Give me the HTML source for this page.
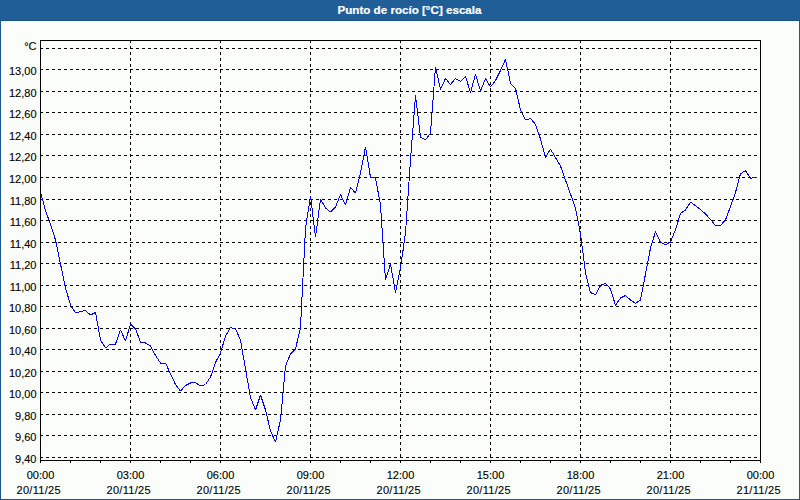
<!DOCTYPE html>
<html><head><meta charset="utf-8"><style>
html,body{margin:0;padding:0;}
body{width:800px;height:500px;overflow:hidden;background:#FBFDFA;position:relative;}
svg{position:absolute;left:0;top:0;}
text{font-family:"Liberation Sans",sans-serif;font-size:11px;fill:#000;stroke:#000;stroke-width:0.12px;}
.t{font-weight:bold;fill:#fff;stroke:#fff;stroke-width:0.2px;font-size:11px;}
</style></head><body>
<svg width="800" height="500" viewBox="0 0 800 500">
<rect x="0" y="0" width="800" height="500" fill="#FBFDFA"/>
<rect x="0" y="0" width="800" height="21" fill="#1F5E96"/>
<rect x="0" y="20" width="800" height="1" fill="#135089"/>
<rect x="1" y="21" width="798" height="1" fill="#ffffff"/>
<rect x="1" y="21" width="1" height="478" fill="#ffffff"/>
<rect x="0" y="20" width="1" height="480" fill="#1A5990"/>
<rect x="799" y="20" width="1" height="480" fill="#1A5990"/>
<rect x="0" y="499" width="800" height="1" fill="#1A5990"/>
<text class="t" x="337.5" y="14" textLength="144" lengthAdjust="spacingAndGlyphs">Punto de rocío [°C] escala</text>
<g stroke="#000" stroke-width="1" fill="none" shape-rendering="crispEdges">
<path d="M40 48.5H760 M40 69.5H760 M40 91.5H760 M40 112.5H760 M40 134.5H760 M40 155.5H760 M40 177.5H760 M40 199.5H760 M40 220.5H760 M40 242.5H760 M40 263.5H760 M40 285.5H760 M40 306.5H760 M40 328.5H760 M40 349.5H760 M40 371.5H760 M40 392.5H760 M40 414.5H760 M40 435.5H760 M40 457.5H760 M130.5 40V460 M220.5 40V460 M310.5 40V460 M400.5 40V460 M490.5 40V460 M580.5 40V460 M670.5 40V460" stroke-dasharray="3 3"/>
<path d="M40.5 460V463 M70.5 460V463 M100.5 460V463 M130.5 460V463 M160.5 460V463 M190.5 460V463 M220.5 460V463 M250.5 460V463 M280.5 460V463 M310.5 460V463 M340.5 460V463 M370.5 460V463 M400.5 460V463 M430.5 460V463 M460.5 460V463 M490.5 460V463 M520.5 460V463 M550.5 460V463 M580.5 460V463 M610.5 460V463 M640.5 460V463 M670.5 460V463 M700.5 460V463 M730.5 460V463 M760.5 460V463"/>
</g>
<polyline points="40.5,192.0 45.5,210.5 50.5,224.5 55.5,240.0 60.5,264.0 65.5,288.0 70.5,305.0 75.5,313.0 80.5,311.5 85.5,310.5 90.5,315.0 95.5,312.5 100.5,340.0 105.5,348.0 110.5,344.0 115.5,344.0 120.5,330.0 125.5,341.0 130.5,324.0 135.5,329.0 140.5,342.0 145.5,343.0 150.5,346.0 155.5,355.5 160.5,363.0 165.5,363.0 170.5,374.0 175.5,384.5 180.5,391.0 185.5,385.5 190.5,383.0 195.5,382.5 200.5,386.0 205.5,384.5 210.5,377.0 215.5,362.5 220.5,353.0 225.5,336.0 230.5,327.5 235.5,329.0 240.5,340.0 245.5,369.0 250.5,397.5 255.5,410.0 260.5,395.0 265.5,410.0 270.5,431.0 275.5,442.0 280.5,420.0 285.5,366.0 290.5,354.0 295.5,349.0 300.5,327.5 305.5,228.0 310.5,196.0 315.5,237.0 320.5,199.0 325.5,208.0 330.5,212.0 335.5,207.0 340.5,194.5 345.5,205.0 350.5,187.5 355.5,193.0 360.5,173.0 365.5,147.0 370.5,177.5 375.5,178.0 380.5,205.0 385.5,280.0 390.5,264.0 395.5,292.5 400.5,268.0 405.5,233.0 410.5,160.0 415.5,95.5 420.5,137.0 425.5,140.0 430.5,133.0 435.5,67.0 440.5,89.5 445.5,78.5 450.5,84.5 455.5,78.5 460.5,81.5 465.5,76.3 470.5,92.6 475.5,74.4 480.5,91.0 485.5,78.5 490.5,87.0 495.5,80.5 500.5,70.5 505.5,59.4 510.5,83.3 515.5,88.2 520.5,110.0 525.5,120.0 530.5,118.5 535.5,124.4 540.5,139.0 545.5,157.7 550.5,149.0 555.5,157.7 560.5,166.0 565.5,180.0 570.5,194.0 575.5,208.0 580.5,234.0 585.5,272.5 590.5,292.6 595.5,294.7 600.5,285.5 605.5,283.3 610.5,289.0 615.5,305.3 620.5,298.0 625.5,295.5 630.5,300.0 635.5,303.3 640.5,300.0 645.5,274.0 650.5,248.0 655.5,231.6 660.5,242.5 665.5,244.6 670.5,242.0 675.5,229.5 680.5,213.5 685.5,210.0 690.5,202.0 695.5,205.6 700.5,209.5 705.5,214.0 710.5,219.5 715.5,225.5 720.5,225.5 725.5,219.8 730.5,206.5 735.5,192.5 740.5,173.75 745.5,170.6 750.5,178.5 755.5,177.0 756.5,177.0" fill="none" stroke="#0000FF" stroke-width="1" stroke-linejoin="bevel" shape-rendering="crispEdges"/>
<rect x="40.5" y="40.5" width="720" height="420" stroke="#000" fill="none" shape-rendering="crispEdges"/>
<text x="36.5" y="50" text-anchor="end">°C</text><text x="36.5" y="75" text-anchor="end">13,00</text><text x="36.5" y="97" text-anchor="end">12,80</text><text x="36.5" y="118" text-anchor="end">12,60</text><text x="36.5" y="140" text-anchor="end">12,40</text><text x="36.5" y="161" text-anchor="end">12,20</text><text x="36.5" y="183" text-anchor="end">12,00</text><text x="36.5" y="205" text-anchor="end">11,80</text><text x="36.5" y="226" text-anchor="end">11,60</text><text x="36.5" y="248" text-anchor="end">11,40</text><text x="36.5" y="269" text-anchor="end">11,20</text><text x="36.5" y="291" text-anchor="end">11,00</text><text x="36.5" y="312" text-anchor="end">10,80</text><text x="36.5" y="334" text-anchor="end">10,60</text><text x="36.5" y="355" text-anchor="end">10,40</text><text x="36.5" y="377" text-anchor="end">10,20</text><text x="36.5" y="398" text-anchor="end">10,00</text><text x="36.5" y="420" text-anchor="end">9,80</text><text x="36.5" y="441" text-anchor="end">9,60</text><text x="36.5" y="463" text-anchor="end">9,40</text>
<text x="40.5" y="479" text-anchor="middle">00:00</text><text x="38.5" y="494" text-anchor="middle" textLength="44" lengthAdjust="spacing">20/11/25</text><text x="130.5" y="479" text-anchor="middle">03:00</text><text x="128.5" y="494" text-anchor="middle" textLength="44" lengthAdjust="spacing">20/11/25</text><text x="220.5" y="479" text-anchor="middle">06:00</text><text x="218.5" y="494" text-anchor="middle" textLength="44" lengthAdjust="spacing">20/11/25</text><text x="310.5" y="479" text-anchor="middle">09:00</text><text x="308.5" y="494" text-anchor="middle" textLength="44" lengthAdjust="spacing">20/11/25</text><text x="400.5" y="479" text-anchor="middle">12:00</text><text x="398.5" y="494" text-anchor="middle" textLength="44" lengthAdjust="spacing">20/11/25</text><text x="490.5" y="479" text-anchor="middle">15:00</text><text x="488.5" y="494" text-anchor="middle" textLength="44" lengthAdjust="spacing">20/11/25</text><text x="580.5" y="479" text-anchor="middle">18:00</text><text x="578.5" y="494" text-anchor="middle" textLength="44" lengthAdjust="spacing">20/11/25</text><text x="670.5" y="479" text-anchor="middle">21:00</text><text x="668.5" y="494" text-anchor="middle" textLength="44" lengthAdjust="spacing">20/11/25</text><text x="760.5" y="479" text-anchor="middle">00:00</text><text x="758.5" y="494" text-anchor="middle" textLength="44" lengthAdjust="spacing">21/11/25</text>
</svg>
</body></html>
